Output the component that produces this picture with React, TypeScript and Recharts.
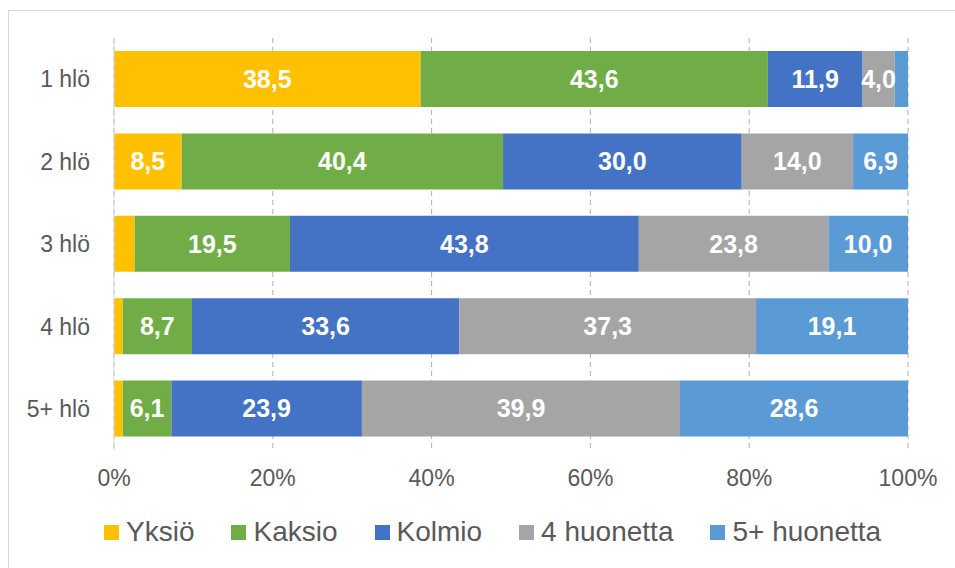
import React from 'react';
import { BarChart, Bar, XAxis, YAxis, CartesianGrid, Legend, LabelList } from 'recharts';

const categories = ['1 hlö', '2 hlö', '3 hlö', '4 hlö', '5+ hlö'];
const yksio = [38.5, 8.5, 2.6, 1.1, 1.1];
const kaksio = [43.6, 40.4, 19.5, 8.7, 6.1];
const kolmio = [11.9, 30.0, 43.8, 33.6, 23.9];
const neljaHuonetta = [4.0, 14.0, 23.8, 37.3, 39.9];
const viisiHuonetta = [1.7, 6.9, 10.0, 19.1, 28.6];
const xTicks = [0, 0.2, 0.4, 0.6, 0.8, 1];

const series = [
  { key: 'yksio', name: 'Yksiö', color: '#FFC000', values: yksio },
  { key: 'kaksio', name: 'Kaksio', color: '#70AD47', values: kaksio },
  { key: 'kolmio', name: 'Kolmio', color: '#4472C4', values: kolmio },
  { key: 'nelja', name: '4 huonetta', color: '#A5A5A5', values: neljaHuonetta },
  { key: 'viisi', name: '5+ huonetta', color: '#5B9BD5', values: viisiHuonetta },
];

const data = categories.map((name, i) => {
  const row: any = { name };
  series.forEach(s => { row[s.key] = s.values[i]; });
  return row;
});

// small slices have no label in the original
const fmtLabel = (v: any) => (Number(v) >= 3 ? Number(v).toFixed(1).replace('.', ',') : '');

const LegendContent = () => (
  <div style={{ display: 'flex', alignItems: 'center', height: 60, paddingLeft: 104 }}>
    {series.map(s => (
      <div key={s.key} style={{ display: 'flex', alignItems: 'center', marginRight: 37 }}>
        <span style={{ width: 15, height: 15, background: s.color, marginRight: 7, display: 'inline-block' }} />
        <span style={{ fontSize: 28, color: '#595959', lineHeight: '30px' }}>{s.name}</span>
      </div>
    ))}
  </div>
);

export default function App() {
  return (
    <div style={{ position: 'absolute', left: 0, top: 0, width: 955, height: 568, overflow: 'hidden', background: '#fff', fontFamily: '"Liberation Sans", Arial, sans-serif' }}>
      <div style={{ position: 'absolute', left: 8, top: 10, width: 980, height: 600, border: '1px solid #D9D9D9' }} />
      <div style={{ position: 'absolute', left: 0, top: 0 }}>
        <BarChart
          width={955}
          height={568}
          data={data}
          layout="vertical"
          stackOffset="expand"
          margin={{ top: 38, right: 47, bottom: 10, left: 0 }}
        >
          <CartesianGrid horizontal={false} stroke="#B0B0B0" strokeDasharray="5 4" />
          <XAxis
            type="number"
            domain={[0, 1]}
            ticks={xTicks}
            tickFormatter={(v) => `${Math.round(v * 100)}%`}
            axisLine={false}
            tickLine={false}
            tickMargin={14}
            height={48}
            tick={{ fill: '#595959', fontSize: 23 }}
          />
          <YAxis
            type="category"
            dataKey="name"
            width={114}
            axisLine={{ stroke: '#D9D9D9' }}
            tickLine={false}
            tickMargin={18}
            tick={{ fill: '#595959', fontSize: 23 }}
          />
          <Legend verticalAlign="bottom" content={<LegendContent />} wrapperStyle={{ left: 0, width: 955, bottom: 6 }} />
          {series.map(s => (
            <Bar key={s.key} dataKey={s.key} name={s.name} stackId="a" fill={s.color} barSize={56} isAnimationActive={false}>
              <LabelList dataKey={s.key} position="center" formatter={fmtLabel} fill="#ffffff" fontSize={25} fontWeight={700} />
            </Bar>
          ))}
        </BarChart>
      </div>
    </div>
  );
}
